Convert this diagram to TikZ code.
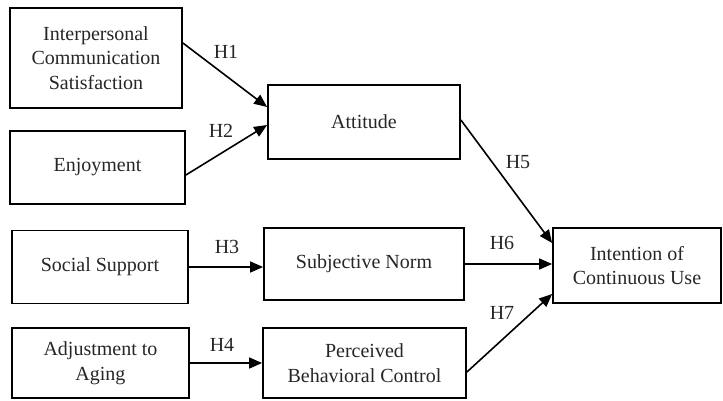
\documentclass[tikz,border=0pt]{standalone}
\usepackage{fontspec}
\setmainfont{Liberation Serif}
\usetikzlibrary{arrows.meta}
\begin{document}
\begin{tikzpicture}[x=1pt,y=-1pt,
  box/.style={draw=black,line width=1.8pt,inner sep=0pt,align=center,
    font=\fontsize{20}{24.5}\selectfont,text=black!85},
  conn/.style={line width=1.6pt,-{Triangle[length=13pt,width=11pt]}},
  lab/.style={font=\fontsize{20}{24}\selectfont,text=black!85}]
\useasboundingbox (0,0) rectangle (723,400);
\node[box,minimum width=172pt,minimum height=100pt] (ics) at (96,58) {Interpersonal\\Communication\\Satisfaction};
\node[box,minimum width=175pt,minimum height=73pt] (enj) at (97.5,167.5) {Enjoyment};
\node[box,minimum width=192pt,minimum height=74pt] (att) at (364,122) {Attitude};
\node[box,minimum width=176pt,minimum height=73pt] (ss) at (100,267) {Social Support};
\node[box,minimum width=177pt,minimum height=70pt] (adj) at (100.5,363) {Adjustment to\\Aging};
\node[box,minimum width=200pt,minimum height=72pt] (sn) at (364,264) {Subjective Norm};
\node[box,minimum width=203pt,minimum height=70pt] (pbc) at (364.5,363) {Perceived\\Behavioral Control};
\node[box,minimum width=168pt,minimum height=75pt] (icu) at (637,265.5) {Intention of\\Continuous Use};
\draw[conn] ([yshift=15pt]ics.east) -- ([yshift=15pt]att.west);
\draw[conn] ([yshift=-7.5pt]enj.east) -- ([yshift=-3pt]att.west);
\draw[conn] (ss.east) -- (ss.east -| sn.west);
\draw[conn] (adj.east) -- (adj.east -| pbc.west);
\draw[conn] ([yshift=2pt]att.east) -- ([yshift=22.5pt]icu.west);
\draw[conn] (sn.east) -- (sn.east -| icu.west);
\draw[conn] ([yshift=-9pt]pbc.east) -- ([yshift=-28.5pt]icu.west);
\node[lab] (h1) at (226,52) {H1};
\node[lab] (h2) at (221,131) {H2};
\node[lab] (h3) at (227,247) {H3};
\node[lab] (h4) at (222,345) {H4};
\node[lab] (h5) at (518,162) {H5};
\node[lab] (h6) at (502,243) {H6};
\node[lab] (h7) at (502,313) {H7};
\end{tikzpicture}
\end{document}
